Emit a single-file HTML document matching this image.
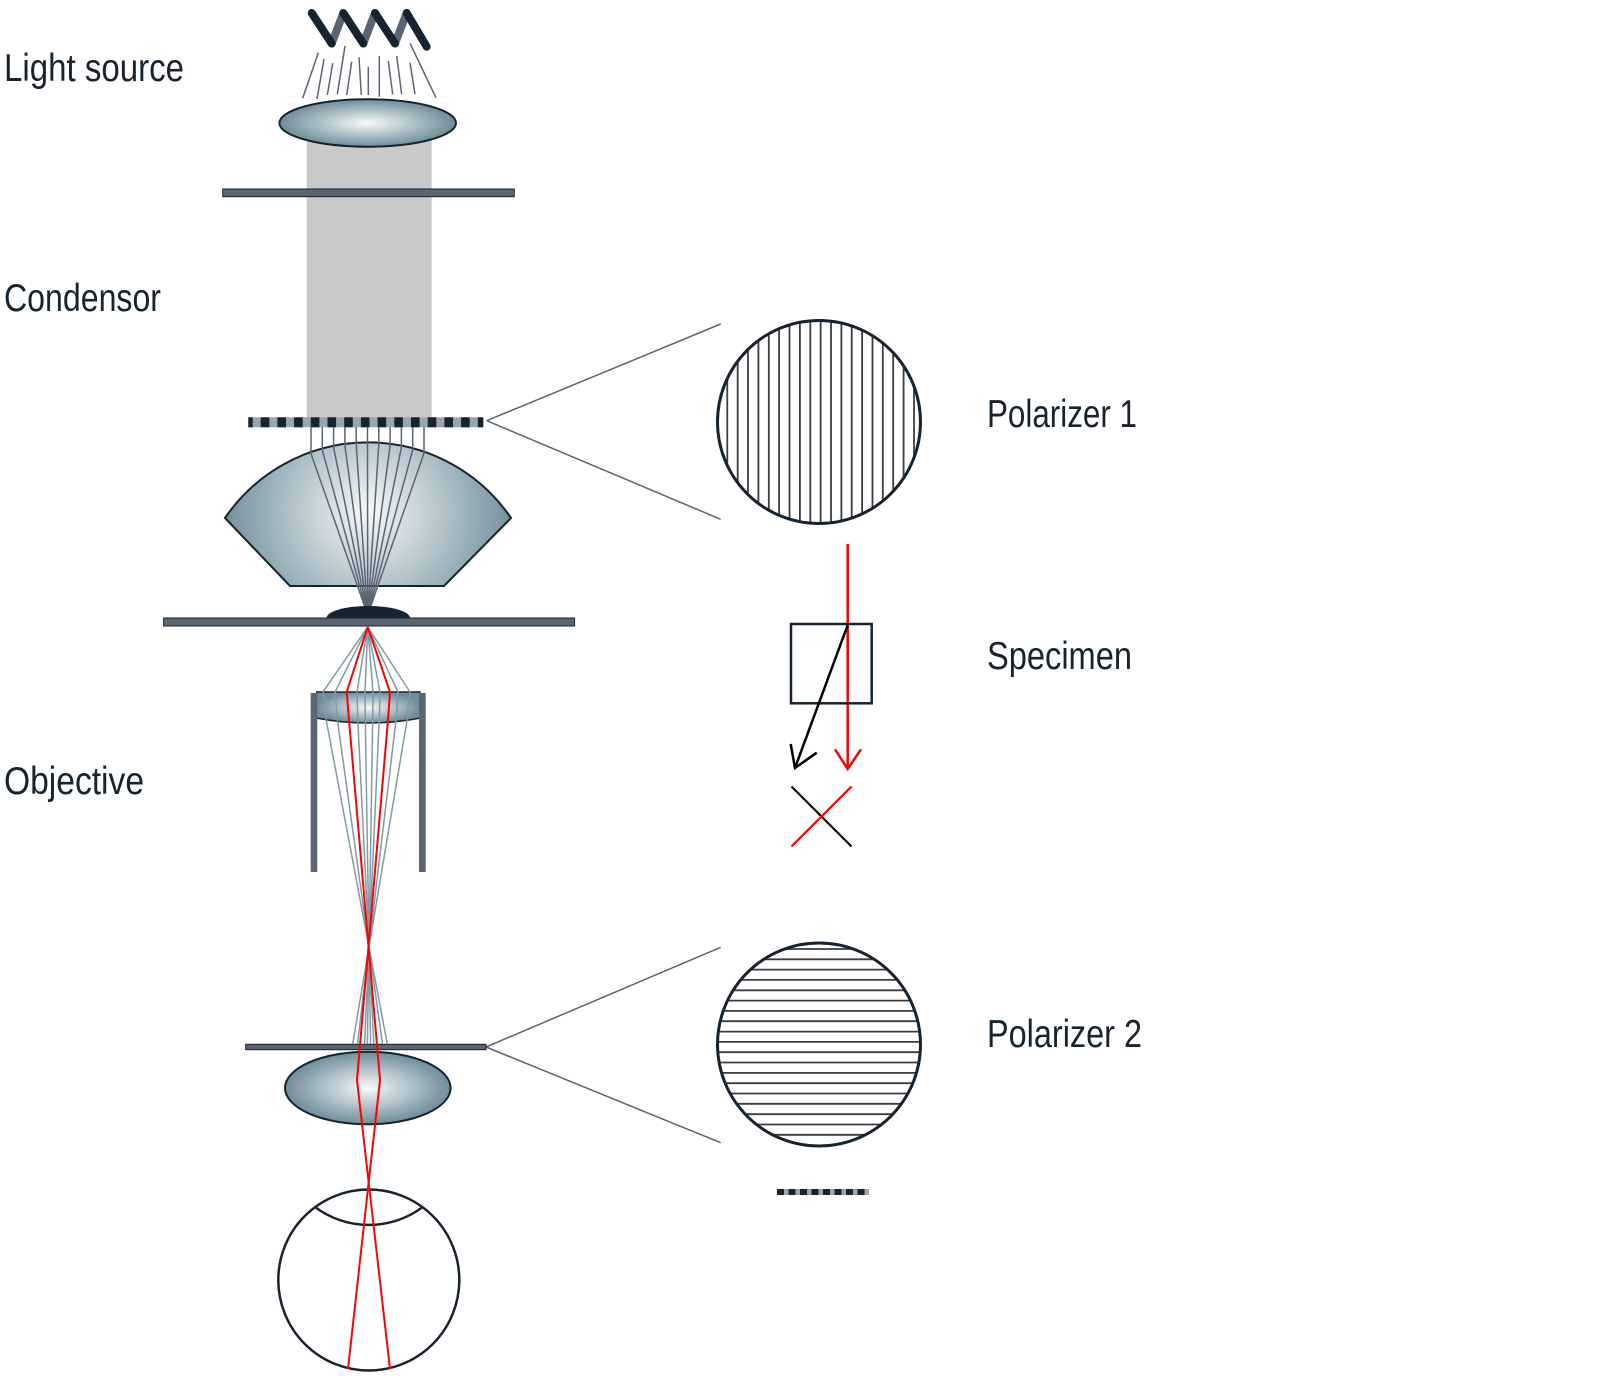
<!DOCTYPE html>
<html><head><meta charset="utf-8"><style>
html,body{margin:0;padding:0;background:#fff;}
svg{display:block;}
text{font-family:"Liberation Sans",sans-serif;font-size:39px;fill:#15242f;}
</style></head><body>
<svg width="1600" height="1376" viewBox="0 0 1600 1376" xmlns="http://www.w3.org/2000/svg">
<defs>
<radialGradient id="g1" cx="0.5" cy="0.5" r="0.5"><stop offset="0" stop-color="#f6f9fa"/><stop offset="1" stop-color="#6f8d99"/></radialGradient>
<radialGradient id="gc" gradientUnits="userSpaceOnUse" cx="368" cy="512" r="150"><stop offset="0" stop-color="#f6f9fa"/><stop offset="1" stop-color="#6f8d99"/></radialGradient>
<clipPath id="c1"><circle cx="819" cy="422" r="101"/></clipPath>
<clipPath id="c2"><circle cx="819" cy="1044.5" r="101"/></clipPath>
</defs>

<!-- labels -->
<text x="4" y="81" textLength="180" lengthAdjust="spacingAndGlyphs">Light source</text>
<text x="4" y="311" textLength="157" lengthAdjust="spacingAndGlyphs">Condensor</text>
<text x="4" y="794" textLength="140" lengthAdjust="spacingAndGlyphs">Objective</text>
<text x="987" y="427" textLength="150" lengthAdjust="spacingAndGlyphs">Polarizer 1</text>
<text x="987" y="669" textLength="145" lengthAdjust="spacingAndGlyphs">Specimen</text>
<text x="987" y="1047" textLength="155" lengthAdjust="spacingAndGlyphs">Polarizer 2</text>

<!-- light source zigzag -->
<g stroke-width="8" stroke-linecap="round" fill="none">
<line x1="331.7" y1="43.5" x2="343.3" y2="13" stroke="#5a6473"/>
<line x1="363.3" y1="43.5" x2="375" y2="13" stroke="#5a6473"/>
<line x1="395" y1="43.5" x2="406.7" y2="13" stroke="#5a6473"/>
<line x1="311.7" y1="13" x2="331.7" y2="43.5" stroke="#15242f"/>
<line x1="343.3" y1="13" x2="363.3" y2="43.5" stroke="#15242f"/>
<line x1="375" y1="13" x2="395" y2="43.5" stroke="#15242f"/>
<line x1="406.7" y1="13" x2="426.7" y2="46.7" stroke="#15242f"/>
</g>
<g stroke="#5a6473" stroke-width="1.5">
<line x1="318.3" y1="52.7" x2="302.7" y2="98.3"/>
<line x1="324" y1="59" x2="317" y2="99"/>
<line x1="332.7" y1="63.3" x2="327.3" y2="95"/>
<line x1="345" y1="46" x2="337.3" y2="94.3"/>
<line x1="351.7" y1="61.7" x2="346.7" y2="95"/>
<line x1="359" y1="57.3" x2="361.3" y2="95"/>
<line x1="368.3" y1="66.7" x2="368.3" y2="95"/>
<line x1="379.3" y1="56" x2="379.3" y2="96.7"/>
<line x1="388.3" y1="61" x2="392.7" y2="94.3"/>
<line x1="396.7" y1="56" x2="401.7" y2="94.3"/>
<line x1="410" y1="62.7" x2="415" y2="94.3"/>
<line x1="410" y1="43.3" x2="436" y2="97.7"/>
</g>

<!-- grey column -->
<rect x="306.7" y="123" width="125" height="295" fill="#c9c9c9"/>
<!-- light source lens -->
<ellipse cx="367.7" cy="123" rx="88.3" ry="23.7" fill="url(#g1)" stroke="#15242f" stroke-width="2"/>
<!-- top plate -->
<rect x="222.7" y="189" width="291.6" height="7.7" fill="#5a6473" stroke="#15242f" stroke-width="1"/>

<!-- polarizer bar 1 -->
<rect x="248.3" y="417.3" width="235" height="10" fill="#9ea4ab"/>
<g fill="#15242f">
<rect x="248.3" y="417.3" width="4.4" height="10"/>
<rect x="260.7" y="417.3" width="8.6" height="10"/>
<rect x="277.4" y="417.3" width="8.6" height="10"/>
<rect x="294.1" y="417.3" width="8.6" height="10"/>
<rect x="310.8" y="417.3" width="8.6" height="10"/>
<rect x="327.5" y="417.3" width="8.6" height="10"/>
<rect x="344.2" y="417.3" width="8.6" height="10"/>
<rect x="360.9" y="417.3" width="8.6" height="10"/>
<rect x="377.6" y="417.3" width="8.6" height="10"/>
<rect x="394.3" y="417.3" width="8.6" height="10"/>
<rect x="411" y="417.3" width="8.6" height="10"/>
<rect x="427.7" y="417.3" width="8.6" height="10"/>
<rect x="444.4" y="417.3" width="8.6" height="10"/>
<rect x="461.1" y="417.3" width="8.6" height="10"/>
<rect x="477.8" y="417.3" width="5.5" height="10"/>
</g>
<!-- connector lines -->
<g stroke="#5a6473" stroke-width="1.5">
<line x1="486.7" y1="420.7" x2="720.7" y2="324"/>
<line x1="486.7" y1="420.7" x2="720.7" y2="519.3"/>
<line x1="486" y1="1047" x2="720.7" y2="947.3"/>
<line x1="486" y1="1047" x2="720.7" y2="1142.7"/>
</g>

<!-- condenser lens -->
<path d="M225,518 A173,173 0 0 1 511,518 L444,586 L290,586 Z" fill="url(#gc)" stroke="#15242f" stroke-width="2"/>
<!-- condenser rays -->
<g stroke="#5a6473" stroke-width="1.5" fill="none">
<polyline points="311,427 311,453.7 367.7,615"/>
<polyline points="322.3,427 322.3,450.1 367.7,615"/>
<polyline points="333.6,427 333.6,447.5 367.7,615"/>
<polyline points="344.9,427 344.9,445.6 367.7,615"/>
<polyline points="356.2,427 356.2,444.4 367.7,615"/>
<polyline points="367.5,427 367.5,444 367.7,615"/>
<polyline points="378.8,427 378.8,444.3 367.7,615"/>
<polyline points="390.1,427 390.1,445.4 367.7,615"/>
<polyline points="401.4,427 401.4,447.3 367.7,615"/>
<polyline points="412.7,427 412.7,449.9 367.7,615"/>
<polyline points="424,427 424,453.3 367.7,615"/>
</g>

<!-- specimen dome + slide -->
<path d="M326.6,618 A41.7,12 0 0 1 410,618 Z" fill="#15242f"/>
<rect x="163.6" y="618" width="411" height="8" fill="#5a6473" stroke="#15242f" stroke-width="1"/>

<!-- objective -->
<path d="M316,692 L420.7,692 L420.7,718 Q368,728 316,718 Z" fill="url(#g1)"/>
<line x1="316" y1="692" x2="420.7" y2="692" stroke="#15242f" stroke-width="1.5"/>
<path d="M316,718 Q368,728 420.7,718" fill="none" stroke="#15242f" stroke-width="1.5"/>
<rect x="310.7" y="693" width="6.6" height="179" fill="#5a6473"/>
<rect x="419" y="693" width="6.7" height="179" fill="#5a6473"/>

<!-- eyepiece -->
<ellipse cx="367.8" cy="1088" rx="82.8" ry="36.3" fill="url(#g1)" stroke="#15242f" stroke-width="2"/>
<rect x="245.7" y="1044.3" width="240.3" height="5.4" fill="#5a6473" stroke="#15242f" stroke-width="1"/>

<!-- grey rays through objective -->
<g stroke="#7f9ba6" stroke-width="1.5" fill="none">
<polyline points="367.7,627 323,692 326.2,720 387.3,1044"/>
<polyline points="367.7,627 335,692 337.4,720 382.5,1044"/>
<polyline points="367.7,627 357,692 357.8,720 373.8,1044"/>
<polyline points="367.7,627 365,692 365.3,720 370.6,1044"/>
<polyline points="367.7,627 373,692 372.7,720 367.4,1044"/>
<polyline points="367.7,627 380,692 379.2,720 364.6,1044"/>
<polyline points="367.7,627 398,692 396,720 357.5,1044"/>
<polyline points="367.7,627 410,692 407.1,720 352.7,1044"/>
</g>

<!-- eye -->
<circle cx="368.8" cy="1280" r="90.5" fill="#fff" stroke="#15242f" stroke-width="2.5"/>
<path d="M315,1207 A90,90 0 0 0 422.7,1207" fill="none" stroke="#15242f" stroke-width="2.5"/>

<!-- red rays -->
<g stroke="#ff0000" stroke-width="2" fill="none">
<polyline points="367.7,627 346.7,692 349,720 380,1080 348,1369"/>
<polyline points="367.7,627 390,692 388,720 357,1080 390,1369"/>
</g>

<!-- polarizer 1 circle -->
<g clip-path="url(#c1)" stroke="#3c3c3c" stroke-width="1.8">
<line x1="727.3" y1="310" x2="727.3" y2="535"/>
<line x1="737.7" y1="310" x2="737.7" y2="535"/>
<line x1="748" y1="310" x2="748" y2="535"/>
<line x1="758.4" y1="310" x2="758.4" y2="535"/>
<line x1="768.8" y1="310" x2="768.8" y2="535"/>
<line x1="779.1" y1="310" x2="779.1" y2="535"/>
<line x1="789.5" y1="310" x2="789.5" y2="535"/>
<line x1="799.9" y1="310" x2="799.9" y2="535"/>
<line x1="810.3" y1="310" x2="810.3" y2="535"/>
<line x1="820.6" y1="310" x2="820.6" y2="535"/>
<line x1="831" y1="310" x2="831" y2="535"/>
<line x1="841.4" y1="310" x2="841.4" y2="535"/>
<line x1="851.7" y1="310" x2="851.7" y2="535"/>
<line x1="862.1" y1="310" x2="862.1" y2="535"/>
<line x1="872.5" y1="310" x2="872.5" y2="535"/>
<line x1="882.8" y1="310" x2="882.8" y2="535"/>
<line x1="893.2" y1="310" x2="893.2" y2="535"/>
<line x1="903.6" y1="310" x2="903.6" y2="535"/>
<line x1="914" y1="310" x2="914" y2="535"/>
</g>
<circle cx="819" cy="422" r="101.5" fill="none" stroke="#15242f" stroke-width="3"/>

<!-- polarizer 2 circle -->
<g clip-path="url(#c2)" stroke="#3c3c3c" stroke-width="1.8">
<line x1="710" y1="949" x2="930" y2="949"/>
<line x1="710" y1="959.3" x2="930" y2="959.3"/>
<line x1="710" y1="969.6" x2="930" y2="969.6"/>
<line x1="710" y1="979.9" x2="930" y2="979.9"/>
<line x1="710" y1="990.3" x2="930" y2="990.3"/>
<line x1="710" y1="1000.6" x2="930" y2="1000.6"/>
<line x1="710" y1="1010.9" x2="930" y2="1010.9"/>
<line x1="710" y1="1021.2" x2="930" y2="1021.2"/>
<line x1="710" y1="1031.6" x2="930" y2="1031.6"/>
<line x1="710" y1="1041.9" x2="930" y2="1041.9"/>
<line x1="710" y1="1052.2" x2="930" y2="1052.2"/>
<line x1="710" y1="1062.5" x2="930" y2="1062.5"/>
<line x1="710" y1="1072.9" x2="930" y2="1072.9"/>
<line x1="710" y1="1083.2" x2="930" y2="1083.2"/>
<line x1="710" y1="1093.5" x2="930" y2="1093.5"/>
<line x1="710" y1="1103.8" x2="930" y2="1103.8"/>
<line x1="710" y1="1114.2" x2="930" y2="1114.2"/>
<line x1="710" y1="1124.5" x2="930" y2="1124.5"/>
<line x1="710" y1="1134.8" x2="930" y2="1134.8"/>
</g>
<circle cx="819" cy="1044.5" r="101.5" fill="none" stroke="#15242f" stroke-width="3"/>

<!-- specimen schematic -->
<line x1="847.7" y1="544" x2="847.7" y2="769" stroke="#ff0000" stroke-width="2.5"/>
<polyline points="835,749.3 847.7,769 861,749.3" fill="none" stroke="#ff0000" stroke-width="2.5"/>
<rect x="791" y="624" width="80.7" height="79.3" fill="none" stroke="#15242f" stroke-width="2.5"/>
<line x1="847.7" y1="625" x2="795" y2="768" stroke="#000" stroke-width="2.5"/>
<polyline points="790.7,744 795,768 816.7,752.7" fill="none" stroke="#000" stroke-width="2.5"/>
<line x1="791.5" y1="786.5" x2="851.5" y2="846.5" stroke="#000" stroke-width="2.2"/>
<line x1="851.5" y1="786.5" x2="791.5" y2="846.5" stroke="#ff0000" stroke-width="2.2"/>

<!-- bottom dashed bar -->
<rect x="777" y="1189" width="92" height="6" fill="#9ea4ab"/>
<g fill="#15242f">
<rect x="777" y="1189" width="7" height="6"/>
<rect x="788.5" y="1189" width="7" height="6"/>
<rect x="800" y="1189" width="7" height="6"/>
<rect x="811.5" y="1189" width="7" height="6"/>
<rect x="823" y="1189" width="7" height="6"/>
<rect x="834.5" y="1189" width="7" height="6"/>
<rect x="846" y="1189" width="7" height="6"/>
<rect x="857.5" y="1189" width="7" height="6"/>
</g>
</svg>
</body></html>
